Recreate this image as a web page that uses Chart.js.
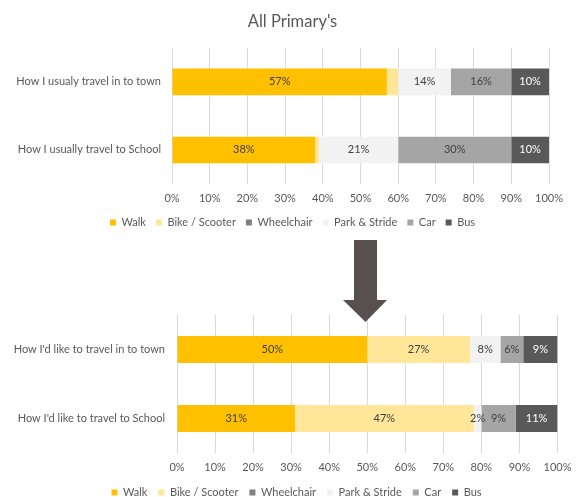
<!DOCTYPE html>
<html>
<head>
<meta charset="utf-8">
<script src="https://cdn.jsdelivr.net/npm/chart.js@4"></script>
<style>
  body { margin: 0; width: 576px; height: 497px; overflow: hidden; background: #fff; position: relative; }
  #nowWrap { position: absolute; left: 0; top: 0; width: 585px; height: 240px; }
  #likeWrap { position: absolute; left: 0; top: 280px; width: 593px; height: 230px; }
  #arrow { position: absolute; left: 0; top: 0; }
</style>
</head>
<body>
<div id="nowWrap"><canvas id="nowChart"></canvas></div>
<div id="likeWrap"><canvas id="likeChart"></canvas></div>
<svg id="arrow" width="576" height="497">
  <polygon points="354,240 377,240 377,300 387,300 365.5,322 343,300 354,300" fill="#584f4f"/>
</svg>
<script>
var modes = ["Walk", "Bike / Scooter", "Wheelchair", "Park & Stride", "Car", "Bus"];
var modeColors = ["#ffc000", "#ffe699", "#7f7f7f", "#f2f2f2", "#a5a5a5", "#595959"];

// how pupils travel now
var nowLabels = ["How I usualy travel in to town", "How I usually travel to School"];
var nowWalk = [57, 38];
var nowBike = [3, 1];
var nowWheelchair = [0, 0];
var nowPark = [14, 21];
var nowCar = [16, 30];
var nowBus = [10, 10];

// how pupils would like to travel
var likeLabels = ["How I'd like to travel in to town", "How I'd like to travel to School"];
var likeWalk = [50, 31];
var likeBike = [27, 47];
var likeWheelchair = [0, 0];
var likePark = [8, 2];
var likeCar = [6, 9];
var likeBus = [9, 11];

var textColor = "#595959";

// percentage written in the middle of each segment
var segmentLabels = {
  id: "segmentLabels",
  afterDatasetsDraw: function(chart, args, opts) {
    var ctx = chart.ctx;
    var skip = opts.skip || [];
    ctx.save();
    ctx.font = "11px Lato";
    ctx.textAlign = "center";
    ctx.textBaseline = "middle";
    chart.data.datasets.forEach(function(ds, i) {
      if (skip.indexOf(ds.label) >= 0) return;
      chart.getDatasetMeta(i).data.forEach(function(bar, j) {
        var v = ds.data[j];
        if (!v) return;
        ctx.fillStyle = ds.label == "Bus" ? "#ffffff" : "#404040";
        ctx.fillText(v + "%", (bar.x + bar.base) / 2, bar.y);
      });
    });
    ctx.restore();
  }
};

function makeChart(id, labels, values, s) {
  var datasets = modes.map(function(m, i) {
    return {
      label: m,
      data: values[i],
      backgroundColor: modeColors[i],
      barPercentage: 0.39,
      categoryPercentage: 1
    };
  });

  return new Chart(id, {
    type: "bar",
    data: { labels: labels, datasets: datasets },
    plugins: [segmentLabels],
    options: {
      indexAxis: "y",
      animation: false,
      responsive: true,
      maintainAspectRatio: false,
      layout: { padding: s.padding },
      scales: {
        x: {
          stacked: true,
          min: 0,
          max: 100,
          ticks: {
            stepSize: 10,
            padding: 8,
            color: textColor,
            font: { family: "Lato", size: 11 },
            callback: function(v) { return v + "%"; }
          },
          grid: { color: "#d9d9d9", drawTicks: false },
          border: { display: false },
          afterFit: function(scale) { scale.height = 23; }
        },
        y: {
          stacked: true,
          ticks: {
            padding: s.labelGap,
            color: textColor,
            font: { family: "Lato", size: 11 }
          },
          grid: { display: false, drawTicks: false },
          border: { display: false },
          afterFit: function(scale) { scale.width = s.axisWidth; }
        },
        // empty strip on the right so title and legend sit a bit right of centre
        yGap: {
          position: "right",
          ticks: { display: false },
          grid: { display: false, drawTicks: false },
          border: { display: false },
          afterFit: function(scale) { scale.width = s.rightGap; }
        }
      },
      plugins: {
        title: s.title,
        tooltip: { enabled: false },
        segmentLabels: { skip: s.skip },
        legend: {
          position: "bottom",
          labels: {
            boxWidth: 6,
            boxHeight: 6,
            padding: s.legendGap,
            color: textColor,
            font: { family: "Lato", size: 11 }
          }
        }
      }
    }
  });
}

makeChart("nowChart", nowLabels,
  [nowWalk, nowBike, nowWheelchair, nowPark, nowCar, nowBus],
  {
    padding: { left: 0, right: 0, top: 0, bottom: 2 },
    axisWidth: 172,
    rightGap: 36,
    labelGap: 11,
    legendGap: 10,
    skip: ["Bike / Scooter"],
    title: {
      display: true,
      text: "All Primary's",
      color: textColor,
      font: { family: "Lato", size: 16.5, weight: "normal" },
      padding: { top: 12, bottom: 16 }
    }
  });

makeChart("likeChart", likeLabels,
  [likeWalk, likeBike, likeWheelchair, likePark, likeCar, likeBus],
  {
    padding: { left: 0, right: 0, top: 35, bottom: 2 },
    axisWidth: 177,
    rightGap: 35.5,
    labelGap: 12,
    legendGap: 11,
    skip: [],
    title: { display: false }
  });
</script>
</body>
</html>
